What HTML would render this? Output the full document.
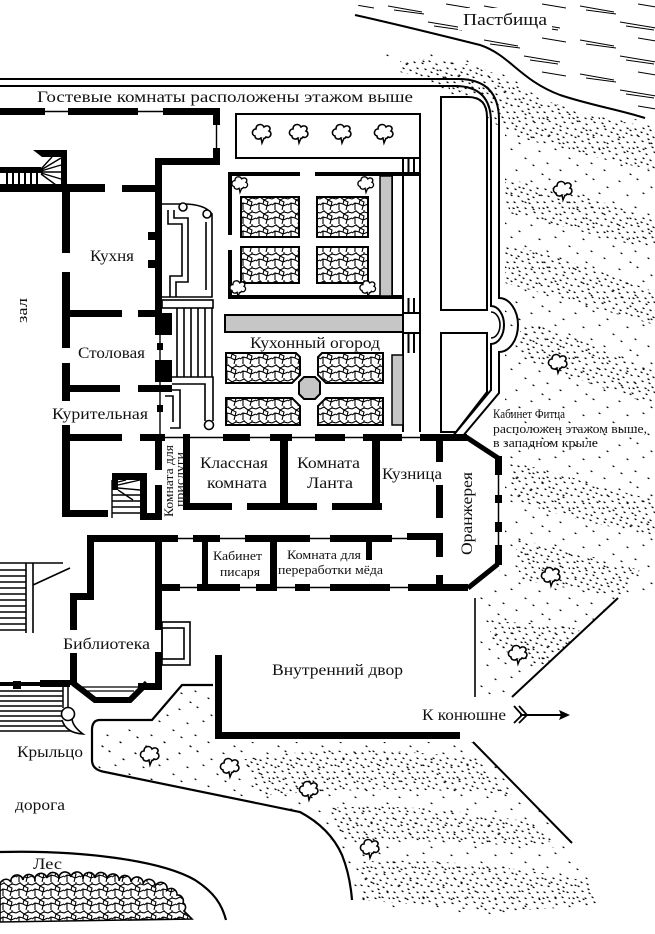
<!DOCTYPE html>
<html><head><meta charset="utf-8">
<style>
html,body{margin:0;padding:0;background:#fff;}
svg{display:block;}
text{font-family:"Liberation Serif","DejaVu Serif",serif;fill:#111;}
</style></head>
<body>
<svg width="655" height="934" viewBox="0 0 655 934" xmlns="http://www.w3.org/2000/svg">
<defs>
<pattern id="pave" width="16" height="14" patternUnits="userSpaceOnUse">
<path d="M0,3 L4,1 L8,4 L12,2 L16,3 M4,1 L4,0 M12,2 L12,0 M8,4 L7,8 L3,7 L0,9 M7,8 L11,10 L10,14 M11,10 L16,8 M3,7 L3,14 M8,4 L12,6 L11,10" stroke="#000" stroke-width="1.1" fill="none"/>
</pattern>
<pattern id="dd" width="30" height="30" patternUnits="userSpaceOnUse">
<path d="M2,3l1,.6M9,1l1,.6M16,4l1,.6M24,2l1,.6M5,9l1,.6M13,8l1,.6M20,10l1,.6M27,8l1,.6M1,15l1,.6M8,16l1,.6M17,14l1,.6M23,17l1,.6M4,22l1,.6M12,21l1,.6M19,23l1,.6M27,22l1,.6M7,27l1,.6M15,28l1,.6M22,27l1,.6M29,28l1,.6M11,12l1,.6M26,13l1,.6M3,28l1,.6M18,19l1,.6" stroke="#000" stroke-width="1.3" stroke-linecap="round"/>
</pattern>
<pattern id="ds" width="44" height="44" patternUnits="userSpaceOnUse">
<path d="M3,5l1,.6M21,3l1,.6M35,11l1,.6M11,19l1,.6M27,17l1,.6M41,26l1,.6M5,33l1,.6M19,31l1,.6M32,38l1,.6M14,42l1,.6" stroke="#000" stroke-width="1.2" stroke-linecap="round"/>
</pattern>
<pattern id="hatch" width="96" height="34" patternUnits="userSpaceOnUse">
<path d="M4,6 L38,12 M10,10 L40,14 M44,22 L80,28 M50,26 L78,30 M62,4 L86,8" stroke="#000" stroke-width="0.9" fill="none"/>
</pattern>
<g id="tree">
<path d="M-7,3 C-11,2 -10,-4 -6,-4 C-6,-9 0,-10 2,-6 C6,-9 10,-5 7,-2 C11,0 8,6 4,4 C3,6 0,6 -1,5 C-3,7 -7,6 -7,3 Z" fill="#fff" stroke="#000" stroke-width="1.6"/>
<path d="M-1,5 L0,10 L2,5" fill="#fff" stroke="#000" stroke-width="1.5"/>
</g>
<clipPath id="pastclip"><path d="M360,0 L355,15 C400,25 440,35 480,45 C510,55 520,80 560,95 C590,105 620,110 655,118 V0 Z"/></clipPath>
</defs>

<!-- pasture -->
<rect x="355" y="0" width="300" height="120" fill="url(#hatch)" clip-path="url(#pastclip)"/>
<rect x="458" y="8" width="94" height="22" fill="#fff"/>
<path d="M355,15 C400,25 440,35 480,45 C510,55 520,80 560,95 C590,105 620,110 645,118" fill="none" stroke="#000" stroke-width="2"/>
<text x="463" y="25" font-size="17" textLength="84" lengthAdjust="spacingAndGlyphs">Пастбища</text>

<!-- stipple right field -->
<path d="M380,55 C440,48 490,62 515,80 C545,100 600,115 655,122 V600 L618,598 L512,697 L480,697 L480,590 L505,565 V110 Z" fill="url(#ds)"/>
<path d="M400,60 C450,55 490,68 515,85 C545,105 600,118 655,128 V170 C600,160 560,148 520,138 C480,118 440,80 400,72 Z" fill="url(#dd)"/>
<path d="M505,180 C560,185 610,205 655,220 V250 C610,240 560,225 505,212 Z" fill="url(#dd)"/>
<path d="M505,245 C560,255 610,275 655,292 V325 C610,312 560,298 505,283 Z" fill="url(#dd)"/>
<path d="M520,322 C570,332 615,352 655,372 V405 C620,395 575,378 520,358 Z" fill="url(#dd)"/>
<path d="M510,462 C560,472 610,490 655,500 V535 C610,527 560,518 510,498 Z" fill="url(#dd)"/>
<path d="M515,540 C560,545 600,560 640,570 L620,598 C580,590 550,585 520,580 Z" fill="url(#dd)"/>
<path d="M490,620 C520,625 550,620 580,630 L545,668 C520,660 500,650 490,640 Z" fill="url(#dd)"/>
<!-- stipple bottom field -->
<path d="M100,728 L150,724 L182,690 L213,688 V742 H472 L572,843 L600,905 L500,915 L352,905 C350,860 330,830 300,814 L105,772 Q97,770 97,760 Z" fill="url(#ds)"/>
<path d="M240,760 C320,745 420,750 480,760 L515,795 C440,788 340,788 260,796 Z" fill="url(#dd)"/>
<path d="M330,808 C400,803 470,812 530,822 L556,848 C480,843 400,840 340,840 Z" fill="url(#dd)"/>
<path d="M360,862 C430,857 520,867 590,882 L600,905 L500,912 L360,900 Z" fill="url(#dd)"/>
<path d="M100,740 C130,735 170,735 200,745 L200,768 C160,763 130,763 100,763 Z" fill="url(#ds)"/>

<!-- outer boundary double line -->
<path d="M0,79 H458 Q499,79 499,120 V298 A19,27 0 0 1 499,352 V393 L462,437" fill="none" stroke="#000" stroke-width="2"/>
<path d="M0,86 H455 Q491,86 491,122 V306 A13,19 0 0 1 491,344 V390 L452,437" fill="none" stroke="#000" stroke-width="2"/>
<path d="M491,312 A9,13 0 0 1 491,338" fill="none" stroke="#000" stroke-width="1.6"/>
<!-- field rects -->
<path d="M441,97 H468 Q487,97 487,117 V310 H441 Z" fill="#fff" stroke="#000" stroke-width="2"/>
<path d="M441,333 H487 V392 L456,432 H441 Z" fill="#fff" stroke="#000" stroke-width="2"/>

<!-- garden -->
<rect x="236" y="114" width="184" height="44" fill="#fff" stroke="#000" stroke-width="2"/>
<use href="#tree" transform="translate(262,133)"/>
<use href="#tree" transform="translate(299,133)"/>
<use href="#tree" transform="translate(342,133)"/>
<use href="#tree" transform="translate(384,133)"/>
<g stroke="#000" stroke-width="2" fill="none">
<line x1="403" y1="158" x2="403" y2="432"/>
<line x1="420" y1="158" x2="420" y2="432"/>
<line x1="408.5" y1="158" x2="408.5" y2="174"/>
<line x1="414" y1="158" x2="414" y2="174"/>
<line x1="408.5" y1="298" x2="408.5" y2="313"/>
<line x1="414" y1="298" x2="414" y2="313"/>
<line x1="408.5" y1="333" x2="408.5" y2="353"/>
<line x1="414" y1="333" x2="414" y2="353"/>
<line x1="403" y1="313" x2="420" y2="313"/>
<line x1="403" y1="333" x2="420" y2="333"/>
<line x1="392" y1="176" x2="392" y2="298"/>
</g>
<rect x="228" y="172" width="72" height="4" fill="#000"/>
<rect x="315" y="172" width="105" height="4" fill="#000"/>
<rect x="228" y="172" width="4" height="63" fill="#000"/>
<rect x="228" y="250" width="4" height="49" fill="#000"/>
<rect x="228" y="295" width="175" height="4" fill="#000"/>
<rect x="380" y="176" width="12" height="120" fill="#c6c6c6" stroke="#000" stroke-width="1.5"/>
<rect x="241" y="197" width="58" height="40" fill="url(#pave)" stroke="#000" stroke-width="2"/>
<rect x="317" y="197" width="51" height="40" fill="url(#pave)" stroke="#000" stroke-width="2"/>
<rect x="241" y="247" width="58" height="36" fill="url(#pave)" stroke="#000" stroke-width="2"/>
<rect x="317" y="247" width="51" height="36" fill="url(#pave)" stroke="#000" stroke-width="2"/>
<use href="#tree" transform="translate(240,184) scale(0.85)"/>
<use href="#tree" transform="translate(366,184) scale(0.85)"/>
<use href="#tree" transform="translate(238,288) scale(0.85)"/>
<use href="#tree" transform="translate(368,288) scale(0.85)"/>
<rect x="225" y="315" width="178" height="17" fill="#c6c6c6" stroke="#000" stroke-width="2"/>
<text x="250" y="348" font-size="16" textLength="130" lengthAdjust="spacingAndGlyphs">Кухонный огород</text>
<path d="M226,353 H296 L300,357 V375 L292,383 H226 Z" fill="url(#pave)" stroke="#000" stroke-width="2"/>
<path d="M322,353 H383 V383 H326 L318,375 V357 Z" fill="url(#pave)" stroke="#000" stroke-width="2"/>
<path d="M226,398 H292 L300,406 V425 H226 Z" fill="url(#pave)" stroke="#000" stroke-width="2"/>
<path d="M326,398 H383 V425 H318 V406 Z" fill="url(#pave)" stroke="#000" stroke-width="2"/>
<path d="M304,377 H315 L320,382 V394 L315,399 H304 L299,394 V382 Z" fill="#c6c6c6" stroke="#000" stroke-width="2"/>
<rect x="392" y="355" width="11" height="70" fill="#c6c6c6" stroke="#000" stroke-width="1.5"/>

<!-- structures between kitchen and garden -->
<g stroke="#000" stroke-width="1.6" fill="none">
<path d="M162,204 H183 Q205,204 212,214 V297 H162"/>
<path d="M168,210 V224 H182 V276 H170 V297"/>
<path d="M174,210 V218 H188 V282 H176 V297"/>
<line x1="206" y1="222" x2="206" y2="290"/>
<rect x="162" y="300" width="51" height="8" fill="#fff"/>
<line x1="177" y1="308" x2="177" y2="377"/>
<line x1="184" y1="308" x2="184" y2="377"/>
<line x1="191" y1="308" x2="191" y2="377"/>
<line x1="198" y1="308" x2="198" y2="377"/>
<line x1="205" y1="308" x2="205" y2="377"/>
<line x1="212" y1="308" x2="212" y2="377"/>
<path d="M172,377 H213 V421"/>
<path d="M172,384 H205 V421"/>
<path d="M165,390 H180 V428 H170"/>
<path d="M165,396 H173 V422"/>
</g>
<circle cx="183" cy="207" r="4" fill="#fff" stroke="#000" stroke-width="1.6"/>
<circle cx="207" cy="214" r="4" fill="#fff" stroke="#000" stroke-width="1.6"/>
<circle cx="209" cy="425" r="4.5" fill="#fff" stroke="#000" stroke-width="1.6"/>

<!-- walls -->
<g fill="#000">
<rect x="0" y="108" width="45" height="7"/>
<rect x="68" y="108" width="70" height="7"/>
<rect x="163" y="108" width="57" height="7"/>
<rect x="213" y="108" width="7" height="17"/>
<rect x="213" y="148" width="7" height="17"/>
<rect x="155" y="158" width="65" height="7"/>
<rect x="155" y="158" width="7" height="155"/>
<rect x="148" y="232" width="7" height="8"/>
<rect x="148" y="260" width="7" height="8"/>
<rect x="155" y="313" width="17" height="22"/>
<rect x="157" y="343" width="6" height="7"/>
<rect x="155" y="360" width="17" height="22"/>
<rect x="157" y="405" width="6" height="7"/>
<path d="M33,150 H67 V157 H42 Z"/>
<rect x="61" y="150" width="6" height="40"/>
<rect x="0" y="167" width="41" height="6"/>
<rect x="6" y="173" width="2" height="12"/>
<rect x="12" y="173" width="2" height="12"/>
<rect x="18" y="173" width="2" height="12"/>
<rect x="24" y="173" width="2" height="12"/>
<rect x="30" y="173" width="2" height="12"/>
<rect x="36" y="173" width="2" height="12"/>
<rect x="0" y="184" width="105" height="8"/>
<rect x="122" y="185" width="40" height="7"/>
<rect x="62" y="185" width="8" height="68"/>
<rect x="62" y="272" width="8" height="76"/>
<rect x="62" y="363" width="8" height="38"/>
<rect x="62" y="425" width="8" height="92"/>
<rect x="62" y="310" width="60" height="7"/>
<rect x="138" y="310" width="24" height="7"/>
<rect x="62" y="385" width="58" height="7"/>
<rect x="138" y="385" width="34" height="7"/>
<rect x="62" y="434" width="60" height="7"/>
<rect x="62" y="510" width="46" height="7"/>
<rect x="140" y="434" width="25" height="7"/>
<rect x="223" y="434" width="27" height="7"/>
<rect x="270" y="434" width="22" height="7"/>
<rect x="315" y="434" width="30" height="7"/>
<rect x="363" y="434" width="39" height="7"/>
<rect x="420" y="434" width="47" height="7"/>
<rect x="155" y="434" width="7" height="36"/>
<rect x="155" y="485" width="7" height="35"/>
<rect x="112" y="473" width="35" height="7"/>
<rect x="140" y="473" width="7" height="47"/>
<rect x="140" y="513" width="22" height="7"/>
<rect x="183" y="434" width="7" height="76"/>
<rect x="183" y="503" width="49" height="7"/>
<rect x="247" y="503" width="70" height="7"/>
<rect x="280" y="434" width="8" height="76"/>
<rect x="332" y="503" width="50" height="7"/>
<rect x="372" y="434" width="8" height="76"/>
<rect x="436" y="434" width="7" height="28"/>
<rect x="436" y="485" width="7" height="33"/>
<rect x="407" y="533" width="36" height="7"/>
<rect x="436" y="533" width="7" height="24"/>
<rect x="436" y="575" width="7" height="12"/>
<rect x="495" y="456" width="7" height="19"/>
<rect x="495" y="495" width="7" height="8"/>
<rect x="495" y="522" width="7" height="10"/>
<rect x="495" y="545" width="7" height="20"/>
<rect x="87" y="535" width="91" height="7"/>
<rect x="193" y="535" width="27" height="7"/>
<rect x="245" y="535" width="65" height="7"/>
<rect x="330" y="535" width="62" height="7"/>
<rect x="202" y="540" width="6" height="45"/>
<rect x="270" y="540" width="7" height="45"/>
<rect x="366" y="540" width="6" height="20"/>
<rect x="155" y="584" width="25" height="7"/>
<rect x="197" y="584" width="43" height="7"/>
<rect x="256" y="584" width="21" height="7"/>
<rect x="295" y="584" width="15" height="7"/>
<rect x="330" y="584" width="60" height="7"/>
<rect x="408" y="584" width="60" height="7"/>
<rect x="87" y="535" width="7" height="65"/>
<rect x="70" y="593" width="24" height="7"/>
<rect x="70" y="593" width="7" height="37"/>
<rect x="70" y="653" width="7" height="32"/>
<rect x="155" y="540" width="7" height="90"/>
<rect x="155" y="652" width="7" height="35"/>
<rect x="138" y="683" width="24" height="7"/>
<rect x="0" y="682" width="70" height="4"/>
<rect x="13" y="681" width="8" height="8"/>
<rect x="40" y="680" width="30" height="7"/>
<rect x="215" y="655" width="7" height="84"/>
<rect x="215" y="732" width="245" height="7"/>
</g>

<g stroke="#000" fill="none">
<line x1="0" y1="111.5" x2="220" y2="111.5" stroke-width="1.4"/>
<line x1="216.5" y1="125" x2="216.5" y2="148" stroke-width="1.4"/>
<line x1="160" y1="335" x2="160" y2="360" stroke-width="1.4"/>
<line x1="160" y1="382" x2="160" y2="434" stroke-width="1.4"/>
<line x1="140" y1="437.5" x2="467" y2="437.5" stroke-width="1.5"/>
<line x1="87" y1="538.5" x2="443" y2="538.5" stroke-width="1.5"/>
<line x1="155" y1="587.5" x2="470" y2="587.5" stroke-width="1.5"/>
<line x1="498.5" y1="456" x2="498.5" y2="565" stroke-width="1.5"/>
<line x1="466" y1="437" x2="498" y2="458" stroke-width="5"/>
<line x1="498" y1="564" x2="468" y2="588" stroke-width="5"/>
<path d="M41,170 L61,158 M41,171 L61,165 M41,172 L61,172 M41,173 L61,179 M41,174 L56,185 M41,169 L52,157" stroke-width="1.4"/>
<path d="M118,485 L140,480 M118,488 L140,490 M118,490 L133,500 M118,482 L126,480" stroke-width="1.4"/>
<path d="M112,480 V518 M112,495 H140 M112,501 H140 M112,507 H140 M112,513 H140" stroke-width="1.4"/>
<rect x="112" y="480" width="6" height="10" fill="#000" stroke="none"/>
<path d="M73,683 L95,700 H130 L147,683" stroke-width="6"/>
<path d="M80,687 H138 M84,691 H134" stroke-width="1.3"/>
<rect x="162" y="622" width="28" height="43" stroke-width="1.6"/>
<rect x="162" y="628" width="22" height="31" stroke-width="1.6"/>
<path d="M0,563 H63 M26,563 V633 M33,563 V633 M33,585 L70,568" stroke-width="1.6"/>
<path d="M0,570 H26 M0,576 H26 M0,582 H26 M0,588 H26 M0,594 H26 M0,600 H26 M0,606 H26 M0,612 H26 M0,618 H26 M0,624 H26 M0,630 H26" stroke-width="1.5"/>
<path d="M0,691 H63 M0,696 H63 M0,701 H63 M0,706 H62 M0,711 H62 M0,716 H63 M0,721 H66 M0,726 H70 M0,731 H74" stroke-width="1.5"/>
<path d="M63,686 V708 M68,686 V708" stroke-width="1.5"/>
<path d="M62,720 Q66,733 83,734 Q72,726 72,718" stroke-width="1.6" fill="#fff"/>
<path d="M213,685 H182 L152,720 H100 Q92,720 92,730 V760 Q92,770 105,772 L300,812 Q330,828 342,855 Q350,875 352,900" stroke-width="2.2"/>
<path d="M0,852 C80,850 160,860 195,880 C215,893 222,905 226,920" stroke-width="2.2"/>
<line x1="475" y1="598" x2="475" y2="697" stroke-width="1.6"/>
<line x1="618" y1="598" x2="512" y2="697" stroke-width="2"/>
<line x1="473" y1="742" x2="572" y2="843" stroke-width="2"/>
<line x1="520" y1="715" x2="563" y2="715" stroke-width="2"/>
<path d="M514,706 L522,715 L514,723 M519,706 L527,715 L519,723" stroke-width="1.8"/>
</g>
<path d="M570,715 L559,710 L561,715 L559,720 Z" fill="#000"/>
<circle cx="68" cy="714" r="6.5" fill="#fff" stroke="#000" stroke-width="1.6"/>

<!-- forest -->
<path d="M0,885 a6,6 0 0 1 11,-3 a6,6 0 0 1 12,-2 a6,6 0 0 1 12,1 a6,6 0 0 1 12,-3 a6,6 0 0 1 12,1 a6,6 0 0 1 12,-2 a6,6 0 0 1 12,2 a6,6 0 0 1 12,-1 a6,6 0 0 1 12,1 a6,6 0 0 1 12,2 a6,6 0 0 1 12,1 a6,6 0 0 1 12,2 a6,6 0 0 1 12,3 a6,6 0 0 1 12,3 a6,6 0 0 1 10,5 a6,6 0 0 1 6,8 a5,5 0 0 1 1,8 L192,919 L0,922 Z" fill="url(#pave)" stroke="#000" stroke-width="1.6"/>

<!-- trees in fields -->
<use href="#tree" transform="translate(563,190)"/>
<use href="#tree" transform="translate(558,363)"/>
<use href="#tree" transform="translate(551,576)"/>
<use href="#tree" transform="translate(518,654)"/>
<use href="#tree" transform="translate(150,755)"/>
<use href="#tree" transform="translate(230,767)"/>
<use href="#tree" transform="translate(309,790)"/>
<use href="#tree" transform="translate(370,848)"/>

<!-- labels -->
<text x="37" y="102" font-size="16" textLength="376" lengthAdjust="spacingAndGlyphs">Гостевые комнаты расположены этажом выше</text>
<text x="90" y="261" font-size="16" textLength="44" lengthAdjust="spacingAndGlyphs">Кухня</text>
<text x="78" y="358" font-size="16" textLength="67" lengthAdjust="spacingAndGlyphs">Столовая</text>
<text x="52" y="419" font-size="16" textLength="96" lengthAdjust="spacingAndGlyphs">Курительная</text>
<text transform="translate(27,323) rotate(-90)" font-size="15" textLength="25" lengthAdjust="spacingAndGlyphs">зал</text>
<text x="200" y="468" font-size="16" textLength="68" lengthAdjust="spacingAndGlyphs">Классная</text>
<text x="207" y="488" font-size="16" textLength="60" lengthAdjust="spacingAndGlyphs">комната</text>
<text x="297" y="468" font-size="16" textLength="63" lengthAdjust="spacingAndGlyphs">Комната</text>
<text x="307" y="488" font-size="16" textLength="46" lengthAdjust="spacingAndGlyphs">Ланта</text>
<text x="382" y="479" font-size="16" textLength="60" lengthAdjust="spacingAndGlyphs">Кузница</text>
<text transform="translate(472,555) rotate(-90)" font-size="16" textLength="83" lengthAdjust="spacingAndGlyphs">Оранжерея</text>
<text transform="translate(173,517) rotate(-90)" font-size="13" textLength="72" lengthAdjust="spacingAndGlyphs">Комната для</text>
<text transform="translate(184,507) rotate(-90)" font-size="13" textLength="55" lengthAdjust="spacingAndGlyphs">прислуги</text>
<text x="213" y="560" font-size="13" textLength="49" lengthAdjust="spacingAndGlyphs">Кабинет</text>
<text x="220" y="576" font-size="13" textLength="40" lengthAdjust="spacingAndGlyphs">писаря</text>
<text x="287" y="559" font-size="13" textLength="74" lengthAdjust="spacingAndGlyphs">Комната для</text>
<text x="278" y="574" font-size="13" textLength="105" lengthAdjust="spacingAndGlyphs">переработки мёда</text>
<text x="63" y="649" font-size="16" textLength="87" lengthAdjust="spacingAndGlyphs">Библиотека</text>
<text x="272" y="675" font-size="16" textLength="131" lengthAdjust="spacingAndGlyphs">Внутренний двор</text>
<text x="422" y="720" font-size="16" textLength="84" lengthAdjust="spacingAndGlyphs">К конюшне</text>
<text x="493" y="418" font-size="13" textLength="72" lengthAdjust="spacingAndGlyphs">Кабинет Фитца</text>
<text x="493" y="433" font-size="13" textLength="154" lengthAdjust="spacingAndGlyphs">расположен этажом выше,</text>
<text x="493" y="447" font-size="13" textLength="105" lengthAdjust="spacingAndGlyphs">в западном крыле</text>
<text x="17" y="757" font-size="16" textLength="66" lengthAdjust="spacingAndGlyphs">Крыльцо</text>
<text x="15" y="810" font-size="16" textLength="50" lengthAdjust="spacingAndGlyphs">дорога</text>
<text x="33" y="869" font-size="16" textLength="29" lengthAdjust="spacingAndGlyphs">Лес</text>
</svg>
</body></html>
